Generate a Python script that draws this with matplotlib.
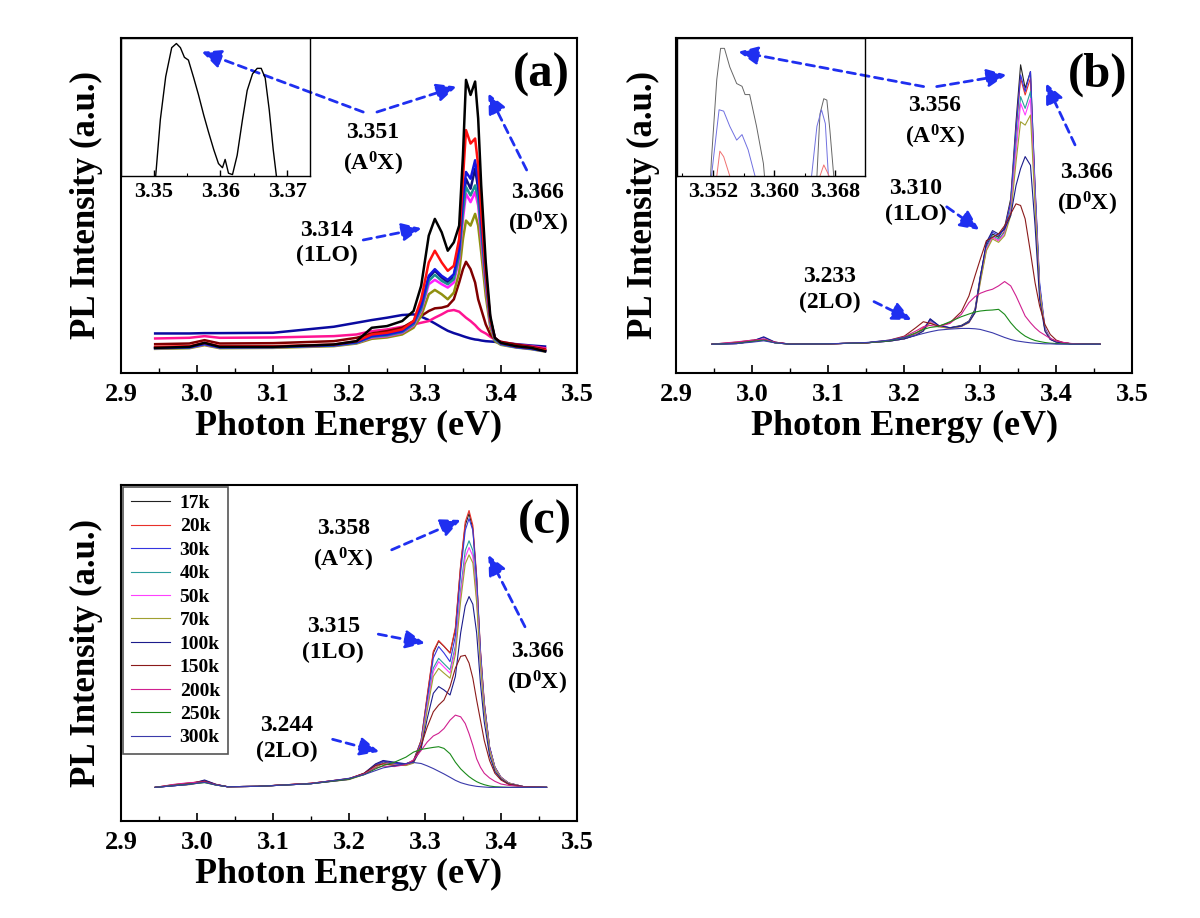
import numpy as np
import matplotlib
matplotlib.use('Agg')
import matplotlib.pyplot as plt
from matplotlib.ticker import MultipleLocator

plt.rcParams['font.family'] = ['Liberation Serif', 'DejaVu Serif']
plt.rcParams['font.weight'] = 'bold'
plt.rcParams['mathtext.fontset'] = 'custom'
plt.rcParams['mathtext.rm'] = 'Liberation Serif:bold'
plt.rcParams['mathtext.bf'] = 'Liberation Serif:bold'
plt.rcParams['mathtext.it'] = 'Liberation Serif:bold'
plt.rcParams['axes.linewidth'] = 1.5

temps = ['17k', '20k', '30k', '40k', '50k', '70k', '100k', '150k', '200k', '250k', '300k']
thin_colors = ['#222222', '#e8302a', '#3535e0', '#2a9d9d', '#ff40ff', '#a0a030',
               '#1c1c8c', '#8b1a1a', '#d02090', '#1a8a1a', '#3a3aaa']

# ---- panel (a): raw spectra (intensity in % of axis height) ----
E_a = [2.945, 2.99, 3.01, 3.03, 3.10, 3.18, 3.21, 3.23, 3.25, 3.27, 3.285, 3.295, 3.305, 3.313,
       3.322, 3.330, 3.338, 3.345, 3.350, 3.354, 3.360, 3.366, 3.370, 3.374, 3.380, 3.386,
       3.392, 3.400, 3.42, 3.44, 3.458]
a_17k = [7.5, 7.8, 9.0, 7.8, 7.8, 8.5, 9.5, 13.5, 14.0, 15.5, 18.5, 26.0, 41.0, 46.0, 42.0, 36.5,
         39.0, 44.0, 65.0, 87.5, 83.0, 87.0, 76.0, 56.0, 33.0, 17.0, 10.5, 9.0, 8.0, 7.5, 6.5]
a_20k = [7.8, 8.0, 9.0, 8.0, 8.0, 8.5, 9.5, 11.5, 12.0, 13.0, 15.5, 22.0, 33.0, 36.5, 33.0, 30.5,
         32.0, 40.0, 58.0, 72.5, 68.5, 70.0, 62.0, 48.0, 30.0, 16.0, 10.5, 9.0, 8.0, 7.5, 6.8]
a_30k = [7.5, 7.7, 8.7, 7.7, 7.8, 8.3, 9.2, 11.0, 11.5, 12.5, 15.0, 20.0, 29.0, 31.0, 29.0, 27.8,
         29.5, 37.0, 52.0, 60.0, 58.0, 63.5, 57.0, 45.0, 29.0, 16.0, 10.5, 8.8, 7.8, 7.3, 6.6]
a_40k = [7.4, 7.6, 8.6, 7.6, 7.7, 8.2, 9.0, 10.8, 11.2, 12.2, 14.5, 19.0, 27.5, 29.3, 27.5, 26.5,
         28.0, 35.0, 48.0, 55.5, 53.0, 56.0, 52.0, 42.0, 27.0, 15.0, 10.0, 8.6, 7.7, 7.2, 6.5]
a_50k = [7.4, 7.6, 8.5, 7.6, 7.7, 8.2, 9.0, 10.6, 11.0, 12.0, 14.2, 18.5, 26.5, 27.8, 26.5, 25.5,
         27.0, 34.0, 46.0, 53.5, 51.0, 54.0, 50.0, 40.0, 26.0, 14.5, 10.0, 8.6, 7.7, 7.2, 6.5]
a_70k = [7.2, 7.4, 8.3, 7.4, 7.5, 8.0, 8.8, 10.2, 10.6, 11.5, 13.5, 17.0, 23.5, 24.8, 23.5, 22.0,
         24.0, 30.0, 40.0, 45.5, 44.0, 47.5, 44.0, 36.0, 23.0, 13.5, 9.5, 8.4, 7.6, 7.1, 6.4]
a_100k = [7.5, 7.7, 8.7, 7.7, 7.8, 8.3, 9.2, 11.0, 11.5, 12.5, 15.0, 20.0, 28.5, 30.5, 28.5, 27.0,
          29.0, 36.0, 50.0, 58.0, 55.0, 61.0, 55.0, 44.0, 28.0, 15.5, 10.3, 8.7, 7.8, 7.3, 6.6]
a_150k = [8.6, 8.8, 9.8, 8.8, 8.9, 9.5, 10.5, 11.8, 12.5, 13.5, 15.5, 17.0, 18.5, 19.3, 19.5, 20.0,
          22.0, 27.0, 31.0, 33.2, 31.0, 27.0, 22.0, 19.0, 14.5, 11.5, 10.0, 9.3, 8.5, 7.8, 7.0]
a_200k = [10.3, 10.5, 11.0, 10.5, 10.6, 11.0, 11.5, 12.5, 13.0, 13.8, 14.5, 15.0, 15.5, 16.5, 17.5,
          18.5, 18.8, 18.3, 17.3, 16.5, 15.5, 14.3, 13.3, 12.5, 11.8, 10.8, 10.0, 9.3, 8.5, 8.0, 7.4]
a_300k = [11.8, 11.8, 11.9, 11.9, 12.0, 13.8, 15.0, 15.8, 16.5, 17.3, 17.5, 16.8, 15.8, 14.8, 13.6,
          12.6, 11.9, 11.4, 11.0, 10.7, 10.3, 10.0, 9.9, 9.7, 9.5, 9.4, 9.3, 9.0, 8.6, 8.2, 7.9]
a_series = [a_300k, a_200k, a_150k, a_100k, a_70k, a_50k, a_40k, a_30k, a_20k, a_17k]
a_colors = ['#0a0aa0', '#ff1493', '#800000', '#101080', '#909010', '#ff20ff', '#1a9090',
            '#1515e0', '#ff1010', '#000000']

# inset (a)
ins_a_E = [3.3500, 3.3503, 3.3510, 3.3518, 3.3527, 3.3534, 3.3540, 3.3546, 3.3552, 3.3560, 3.3567,
           3.3575, 3.3582, 3.3590, 3.3597, 3.3603, 3.3607, 3.3612, 3.3618, 3.3625, 3.3633, 3.3640,
           3.3648, 3.3655, 3.3661, 3.3667, 3.3673, 3.3679, 3.3684, 3.3688]
ins_a_I = [-0.3, 0.0, 0.41, 0.72, 0.93, 0.96, 0.93, 0.86, 0.84, 0.71, 0.59, 0.44, 0.32, 0.19, 0.09,
           0.06, 0.12, 0.02, 0.01, 0.15, 0.41, 0.62, 0.74, 0.78, 0.78, 0.71, 0.48, 0.19, -0.01, -0.3]

# ---- panel (b): normalised spectra ----
E_b = [2.947, 2.98, 3.00, 3.015, 3.03, 3.05, 3.10, 3.15, 3.18, 3.20, 3.215, 3.225, 3.234, 3.245,
       3.26, 3.275, 3.285, 3.293, 3.300, 3.308, 3.316, 3.324, 3.332, 3.340, 3.347, 3.353, 3.359,
       3.366, 3.372, 3.378, 3.385, 3.392, 3.400, 3.41, 3.42, 3.44, 3.4575]
b_17k = [8.6, 8.8, 9.5, 10.0, 9.0, 8.6, 8.7, 9.0, 9.6, 10.3, 11.5, 13.0, 15.8, 14.0, 13.5, 14.2, 15.5,
         19.0, 29.0, 38.0, 41.5, 40.5, 43.5, 52.0, 75.0, 92.0, 85.0, 90.0, 55.0, 26.0, 13.0, 10.2,
         9.3, 9.0, 8.7, 8.6, 8.6]
b_20k = [8.6, 9.0, 9.6, 10.2, 9.1, 8.6, 8.7, 9.0, 9.6, 10.4, 11.8, 13.5, 15.5, 14.0, 13.4, 14.0, 15.3,
         18.5, 28.0, 37.0, 40.5, 39.5, 42.5, 51.0, 72.0, 88.0, 83.0, 88.0, 54.0, 25.0, 13.0, 10.2,
         9.3, 9.0, 8.7, 8.6, 8.6]
b_30k = [8.6, 8.8, 9.6, 10.6, 9.1, 8.6, 8.7, 9.0, 9.5, 10.2, 11.4, 12.8, 16.0, 14.2, 13.5, 14.0, 15.3,
         18.5, 28.5, 38.5, 42.0, 41.0, 43.0, 51.0, 73.0, 89.0, 84.0, 90.0, 56.0, 27.0, 13.5, 10.3,
         9.3, 9.0, 8.7, 8.6, 8.6]
b_40k = [8.6, 8.8, 9.5, 10.3, 9.0, 8.6, 8.7, 9.0, 9.5, 10.2, 11.4, 12.8, 15.5, 14.0, 13.4, 14.0, 15.2,
         18.3, 28.0, 37.5, 41.0, 40.0, 42.0, 49.0, 68.0, 82.5, 79.0, 84.0, 53.0, 25.5, 13.0, 10.2,
         9.3, 9.0, 8.7, 8.6, 8.6]
b_50k = [8.6, 8.8, 9.5, 10.3, 9.0, 8.6, 8.7, 9.0, 9.5, 10.2, 11.4, 12.8, 15.3, 13.9, 13.3, 13.9, 15.0,
         18.0, 27.5, 37.0, 40.5, 39.5, 41.5, 48.0, 66.0, 80.5, 77.0, 82.0, 52.0, 25.0, 13.0, 10.2,
         9.3, 9.0, 8.7, 8.6, 8.6]
b_70k = [8.6, 8.8, 9.4, 10.1, 9.0, 8.6, 8.7, 9.0, 9.5, 10.2, 11.3, 12.6, 15.0, 13.8, 13.3, 13.9, 15.0,
         18.0, 27.0, 36.5, 40.0, 39.0, 41.0, 47.0, 63.0, 75.0, 74.0, 77.0, 50.0, 24.5, 12.8, 10.1,
         9.3, 9.0, 8.7, 8.6, 8.6]
b_100k = [8.6, 8.8, 9.5, 10.8, 9.2, 8.6, 8.7, 9.0, 9.5, 10.2, 11.2, 12.5, 16.2, 14.2, 13.5, 14.0,
          15.2, 18.0, 28.5, 39.0, 42.5, 41.5, 43.0, 47.0, 56.0, 61.0, 64.6, 62.0, 44.0, 22.0, 12.5,
          10.0, 9.2, 8.9, 8.7, 8.6, 8.6]
b_150k = [8.6, 9.2, 9.8, 10.0, 9.2, 8.6, 8.7, 9.0, 9.8, 11.0, 13.5, 15.3, 14.8, 14.0, 15.0, 18.3,
          23.0, 29.0, 34.0, 39.5, 40.5, 41.5, 44.0, 47.5, 50.5, 50.0, 46.0, 36.0, 27.0, 20.0, 14.5,
          11.5, 9.8, 9.0, 8.7, 8.6, 8.6]
b_200k = [8.6, 9.3, 9.8, 10.0, 9.2, 8.6, 8.7, 9.0, 9.7, 10.8, 12.5, 13.8, 14.2, 13.8, 14.8, 17.5,
          21.0, 22.8, 23.8, 24.5, 25.0, 26.0, 27.3, 26.0, 23.0, 20.0, 17.0, 15.0, 13.5, 12.3, 11.3,
          10.3, 9.6, 9.1, 8.8, 8.6, 8.6]
b_250k = [8.6, 8.9, 9.4, 9.8, 9.0, 8.6, 8.7, 9.0, 9.6, 10.6, 12.0, 13.0, 13.6, 13.9, 15.3, 16.8,
          17.6, 18.2, 18.5, 18.7, 18.8, 19.0, 17.5, 15.0, 13.2, 12.0, 11.0, 10.2, 9.7, 9.4, 9.1, 8.9,
          8.8, 8.7, 8.6, 8.6, 8.6]
b_300k = [8.6, 8.8, 9.2, 9.6, 9.0, 8.6, 8.7, 9.1, 9.8, 10.6, 11.2, 11.8, 12.3, 12.8, 13.1, 13.3,
          13.3, 13.2, 13.0, 12.5, 12.0, 11.3, 10.6, 10.0, 9.6, 9.4, 9.2, 9.0, 8.9, 8.8, 8.7, 8.7, 8.6,
          8.6, 8.6, 8.6, 8.6]
b_series = [b_17k, b_20k, b_30k, b_40k, b_50k, b_70k, b_100k, b_150k, b_200k, b_250k, b_300k]

# inset (b): tops of the 17k / 30k / 20k peaks
ins_b17_E = [3.3514, 3.3518, 3.3525, 3.3530, 3.3535, 3.3542, 3.3551, 3.3558, 3.3562, 3.3568, 3.3577,
             3.3586, 3.3592, 3.3650, 3.3656, 3.3660, 3.3665, 3.3669, 3.3673, 3.3678, 3.3682]
ins_b17_I = [-0.3, 0.12, 0.70, 0.925, 0.925, 0.79, 0.67, 0.65, 0.59, 0.59, 0.36, 0.09, -0.3, -0.3,
             0.0, 0.45, 0.56, 0.55, 0.33, 0.0, -0.3]
ins_b30_E = [3.3515, 3.3518, 3.3523, 3.3528, 3.3534, 3.3542, 3.3551, 3.3558, 3.3566, 3.3575, 3.3580,
             3.3645, 3.3649, 3.3656, 3.3662, 3.3667, 3.3671, 3.3675]
ins_b30_I = [-0.3, 0.0, 0.24, 0.48, 0.47, 0.36, 0.26, 0.30, 0.19, 0.0, -0.3, -0.3, 0.0, 0.36, 0.48,
             0.38, 0.0, -0.3]
ins_b20_E = [3.3522, 3.3525, 3.3529, 3.3534, 3.3542, 3.3546, 3.3655, 3.3660, 3.3665, 3.3672, 3.3676]
ins_b20_I = [-0.3, 0.0, 0.18, 0.14, 0.0, -0.3, -0.3, 0.0, 0.08, 0.0, -0.3]

# ---- panel (c) ----
E_c = [2.945, 2.97, 2.99, 3.01, 3.025, 3.04, 3.08, 3.15, 3.20, 3.22, 3.235, 3.245, 3.26, 3.275, 3.285,
       3.295, 3.303, 3.311, 3.318, 3.325, 3.333, 3.340, 3.347, 3.353, 3.358, 3.363, 3.368, 3.373,
       3.378, 3.385, 3.392, 3.400, 3.41, 3.43, 3.46]
c_17k = [10.0, 10.6, 11.0, 12.0, 10.8, 10.2, 10.3, 11.2, 12.5, 14.0, 16.5, 17.5, 17.0, 17.0, 18.0,
         24.0, 37.0, 50.0, 53.5, 52.0, 50.0, 57.0, 76.0, 88.0, 91.5, 87.0, 72.0, 50.0, 35.0, 22.0,
         16.0, 13.0, 11.3, 10.2, 10.0]
c_20k = [10.0, 10.8, 11.2, 12.0, 10.9, 10.2, 10.3, 11.2, 12.6, 14.2, 16.8, 17.8, 17.0, 16.8, 17.8,
         24.0, 37.5, 50.5, 53.7, 52.0, 50.0, 57.5, 76.5, 89.0, 92.4, 88.0, 73.0, 51.0, 35.5, 22.0,
         16.0, 13.0, 11.3, 10.2, 10.0]
c_30k = [10.0, 10.5, 10.9, 11.8, 10.8, 10.2, 10.3, 11.1, 12.4, 14.0, 16.6, 17.8, 17.2, 17.0, 17.8,
         23.5, 36.0, 48.5, 51.9, 50.0, 47.4, 55.0, 74.0, 86.5, 90.0, 86.5, 72.0, 50.5, 35.0, 22.0,
         16.0, 13.0, 11.3, 10.2, 10.0]
c_40k = [10.0, 10.5, 10.9, 11.7, 10.7, 10.2, 10.3, 11.1, 12.4, 13.9, 16.3, 17.3, 16.8, 16.7, 17.5,
         23.0, 34.5, 45.5, 48.4, 46.8, 45.0, 52.0, 69.0, 80.5, 83.4, 80.5, 68.0, 48.5, 34.0, 21.5,
         15.8, 12.9, 11.2, 10.2, 10.0]
c_50k = [10.0, 10.5, 10.9, 11.7, 10.7, 10.2, 10.3, 11.1, 12.4, 13.9, 16.2, 17.2, 16.7, 16.6, 17.4,
         22.8, 34.0, 44.5, 47.4, 45.8, 44.0, 51.0, 67.5, 78.5, 81.4, 78.8, 66.5, 47.5, 33.5, 21.3,
         15.7, 12.9, 11.2, 10.2, 10.0]
c_70k = [10.0, 10.5, 10.8, 11.6, 10.7, 10.2, 10.3, 11.1, 12.3, 13.8, 16.0, 17.0, 16.6, 16.5, 17.2,
         22.3, 33.0, 43.0, 45.4, 44.0, 42.5, 49.5, 65.5, 76.5, 79.2, 76.8, 65.0, 46.5, 33.0, 21.0,
         15.6, 12.8, 11.2, 10.2, 10.0]
c_100k = [10.0, 10.5, 10.9, 12.2, 10.9, 10.2, 10.3, 11.1, 12.4, 14.2, 17.0, 18.0, 17.5, 17.0, 17.6,
          21.5, 30.5, 38.0, 40.0, 39.0, 37.5, 43.0, 56.0, 64.0, 66.8, 64.5, 56.0, 41.0, 29.5, 19.5,
          14.8, 12.5, 11.0, 10.2, 10.0]
c_150k = [10.0, 10.8, 11.3, 11.8, 10.8, 10.2, 10.3, 11.2, 12.6, 14.2, 16.5, 17.0, 16.5, 16.8, 18.0,
          22.5, 28.0, 32.5, 34.5, 36.0, 40.0, 45.5, 49.0, 49.3, 47.0, 42.5, 36.0, 30.0, 24.0, 18.0,
          14.2, 12.2, 10.9, 10.2, 10.0]
c_200k = [10.0, 10.9, 11.4, 11.6, 10.8, 10.2, 10.3, 11.2, 12.6, 14.0, 15.8, 16.3, 16.2, 16.8, 18.2,
          21.0, 23.5, 25.3, 26.1, 27.5, 30.0, 31.5, 31.0, 29.0, 26.0, 22.5, 18.5, 16.0, 14.2, 12.8,
          11.8, 11.0, 10.6, 10.1, 10.0]
c_250k = [10.0, 10.6, 11.0, 11.4, 10.7, 10.2, 10.3, 11.1, 12.5, 13.8, 15.5, 16.5, 17.5, 19.0, 20.5,
          21.3, 21.6, 21.9, 22.1, 21.6, 20.0, 17.5, 15.5, 14.2, 13.2, 12.4, 11.7, 11.2, 10.8, 10.4,
          10.2, 10.1, 10.0, 10.0, 10.0]
c_300k = [10.0, 10.5, 10.9, 11.5, 10.7, 10.2, 10.3, 11.1, 12.7, 13.8, 15.0, 15.8, 16.4, 17.1, 17.4,
          17.1, 16.4, 15.6, 14.8, 14.0, 13.0, 12.1, 11.4, 11.0, 10.7, 10.5, 10.3, 10.2, 10.1, 10.0,
          10.0, 10.0, 10.0, 10.0, 10.0]
c_series = [c_17k, c_20k, c_30k, c_40k, c_50k, c_70k, c_100k, c_150k, c_200k, c_250k, c_300k]

arrow_c = '#1f2ff0'
arrow_props = dict(arrowstyle='-|>,head_length=0.6,head_width=0.28', mutation_scale=20,
                   ls=(0, (3, 2)), lw=2, color=arrow_c, shrinkA=0, shrinkB=0)


def style_main(ax):
    ax.set_xlim(2.9, 3.5)
    ax.set_ylim(0, 100)
    ax.set_yticks([])
    ax.xaxis.set_major_locator(MultipleLocator(0.1))
    ax.xaxis.set_minor_locator(MultipleLocator(0.05))
    ax.xaxis.set_major_formatter(plt.FormatStrFormatter('%.1f'))
    ax.tick_params(axis='x', which='major', direction='in', length=6, width=1.2,
                   labelsize=19, pad=7)
    ax.tick_params(axis='x', which='minor', direction='in', length=3.5, width=1.0)
    ax.set_xlabel('Photon Energy (eV)', fontsize=26, fontweight='bold', labelpad=3)
    ax.set_ylabel('PL Intensity (a.u.)', fontsize=25, fontweight='bold')


def mark(ax, txt, pos, start, tip):
    ax.text(pos[0], pos[1], txt, ha='center', va='center', fontsize=17,
            fontweight='bold', linespacing=1.3)
    ax.annotate('', xy=tip, xytext=start, annotation_clip=False, arrowprops=arrow_props)


def style_inset(ax, xlim, major, minor, fmt):
    ax.set_xlim(*xlim)
    ax.set_ylim(0, 1)
    ax.set_yticks([])
    ax.set_facecolor('none')
    for s in ax.spines.values():
        s.set_linewidth(1.0)
    ax.xaxis.set_major_locator(MultipleLocator(major))
    ax.xaxis.set_minor_locator(MultipleLocator(minor))
    ax.xaxis.set_major_formatter(plt.FormatStrFormatter(fmt))
    ax.tick_params(axis='x', which='major', direction='in', length=4, width=1,
                   labelsize=16, pad=4)
    ax.tick_params(axis='x', which='minor', direction='in', length=2.5, width=0.8)


fig = plt.figure(figsize=(12, 9.18), dpi=100)
ax_a = fig.add_axes([0.1008, 0.5937, 0.38, 0.3649])
ax_b = fig.add_axes([0.5636, 0.5937, 0.38, 0.3649])
ax_c = fig.add_axes([0.1008, 0.1057, 0.38, 0.3660])

# (a)
for y, c in zip(a_series, a_colors):
    ax_a.plot(E_a, y, color=c, lw=1.8)
style_main(ax_a)
ax_a.yaxis.set_label_coords(-0.04, 0.5)
ax_a.text(3.4526, 89, '(a)', ha='center', va='center', fontsize=35, fontweight='bold')
mark(ax_a, '3.351\n(A$^0$X)', (3.2316, 66.6), (3.2188, 77.9), (3.0062, 95.9))
ax_a.annotate('', xy=(3.3417, 85.5), xytext=(3.2368, 77.9), annotation_clip=False,
              arrowprops=arrow_props)
mark(ax_a, '3.366\n(D$^0$X)', (3.4487, 48.7), (3.4338, 60.6), (3.3833, 83.5))
mark(ax_a, '3.314\n(1LO)', (3.1711, 38.8), (3.2188, 39.7), (3.2956, 43.2))

ins_a = fig.add_axes([0.1008, 0.8083, 0.1575, 0.1503])
ins_a.plot(ins_a_E, ins_a_I, color='black', lw=1.0)
style_inset(ins_a, (3.3451, 3.3734), 0.01, 0.005, '%.2f')

# (b)
for y, c in zip(b_series, thin_colors):
    ax_b.plot(E_b, y, color=c, lw=0.8)
style_main(ax_b)
ax_b.yaxis.set_label_coords(-0.035, 0.5)
ax_b.text(3.4549, 89, '(b)', ha='center', va='center', fontsize=35, fontweight='bold')
mark(ax_b, '3.356\n(A$^0$X)', (3.2403, 74.6), (3.2254, 85.5), (2.9816, 95.9))
ax_b.annotate('', xy=(3.3347, 89.0), xytext=(3.2426, 85.5), annotation_clip=False,
              arrowprops=arrow_props)
mark(ax_b, '3.366\n(D$^0$X)', (3.4400, 54.6), (3.4246, 68.1), (3.3865, 86.5))
mark(ax_b, '3.310\n(1LO)', (3.2150, 51.1), (3.2558, 49.6), (3.2987, 42.7))
mark(ax_b, '3.233\n(2LO)', (3.1022, 24.8), (3.1601, 21.3), (3.2097, 15.8))

ins_b = fig.add_axes([0.5642, 0.8083, 0.1567, 0.1503])
ins_b.plot(ins_b17_E, ins_b17_I, color='#666666', lw=0.7)
ins_b.plot(ins_b30_E, ins_b30_I, color='#7070e0', lw=0.7)
ins_b.plot(ins_b20_E, ins_b20_I, color='#f07070', lw=0.7)
style_inset(ins_b, (3.3473, 3.3719), 0.008, 0.004, '%.3f')

# (c)
lines = []
for y, c, t in zip(c_series, thin_colors, temps):
    ln, = ax_c.plot(E_c, y, color=c, lw=0.8, label=t)
    lines.append(ln)
style_main(ax_c)
ax_c.yaxis.set_label_coords(-0.04, 0.5)
ax_c.text(3.4579, 89.1, '(c)', ha='center', va='center', fontsize=35, fontweight='bold')
mark(ax_c, '3.358\n(A$^0$X)', (3.1925, 81.8), (3.2562, 80.7), (3.3470, 89.6))
mark(ax_c, '3.366\n(D$^0$X)', (3.4478, 45.2), (3.4316, 57.8), (3.3833, 79.2))
mark(ax_c, '3.315\n(1LO)', (3.1794, 53.9), (3.2386, 55.6), (3.3000, 52.9))
mark(ax_c, '3.244\n(2LO)', (3.1180, 24.6), (3.1785, 24.3), (3.2399, 20.6))
leg = ax_c.legend(handles=lines, loc='upper left', bbox_to_anchor=(0.005, 0.995),
                  fontsize=14, frameon=True, fancybox=False, framealpha=1,
                  edgecolor='#555555', handlelength=2.0, handletextpad=0.5,
                  labelspacing=0.3, borderpad=0.4, borderaxespad=0)
leg.get_frame().set_linewidth(1.2)
for t in leg.get_texts():
    t.set_fontweight('bold')

fig.savefig('out.png', dpi=100)
